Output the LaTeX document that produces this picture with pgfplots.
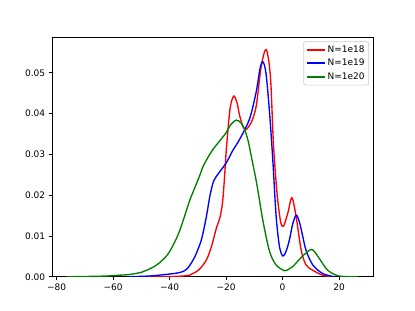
\documentclass[border=0pt]{standalone}
\usepackage{fontspec}
\setmainfont{DejaVu Sans}
\usepackage{pgfplots}
\pgfplotsset{compat=1.18}
\definecolor{mplgreen}{rgb}{0,0.5,0}
\pgfplotsset{
  mplline/.style={line width=1.35bp, smooth, tension=0.5},
}
\begin{document}
\begin{tikzpicture}[font=\fontsize{9bp}{11bp}\selectfont]
\useasboundingbox (0,0) rectangle (415bp,311bp);
\begin{axis}[
  at={(51.9bp,34.2bp)}, anchor=south west, scale only axis,
  width=321.6bp, height=239.5bp,
  xmin=-81.7, xmax=32.2, ymin=0, ymax=0.0587,
  xtick={-80,-60,-40,-20,0,20},
  xticklabels={−80,−60,−40,−20,0,20},
  ytick={0,0.01,0.02,0.03,0.04,0.05},
  yticklabels={0.00,0.01,0.02,0.03,0.04,0.05},
  scaled y ticks=false,
  tick align=outside, tick pos=left, major tick length=3.2bp,
  every tick/.style={black, line width=0.72bp},
  axis line style={line width=0.72bp},
  tick label style={font=\fontsize{9bp}{11bp}\selectfont},
  legend style={at={(1,1)}, anchor=north east, xshift=-4.5bp, yshift=-4bp,
    draw=black!20, line width=0.72bp, rounded corners=2bp, inner xsep=2bp, inner ysep=2bp,
    row sep=1.5bp, font=\fontsize{9bp}{11bp}\selectfont},
  legend cell align=left,
  legend image code/.code={\draw[#1, line width=2bp, sharp corners] (0bp,0bp) -- (18bp,0bp);},
]
\addplot[red, mplline] coordinates {
(-50,0) (-42,0.00003) (-38,0.0001) (-35,0.0002) (-33,0.0004) (-31.5,0.0009)
(-29.5,0.0018) (-27,0.0041) (-25.2,0.0074) (-23.5,0.0118) (-22.2,0.0145)
(-21.3,0.0180) (-20.6,0.0240) (-20.0,0.0305) (-19.4,0.0356) (-18.5,0.0417)
(-17.3,0.0443) (-16.2,0.0428) (-15.2,0.0395) (-14,0.0368) (-12.9,0.0361)
(-11,0.0380) (-9.3,0.0420) (-7.6,0.0515) (-5.8,0.0557) (-4.3,0.0490)
(-3.2,0.0320) (-1.9,0.0200) (-0.7,0.0135) (0.3,0.0124) (1.8,0.0155)
(3.3,0.0194) (4.8,0.0147) (6.6,0.0065) (8.3,0.0029) (10.7,0.0016)
(14.2,0.0004) (18,0)
};
\addlegendentry{N=1e18}
\addplot[blue, mplline] coordinates {
(-55,0) (-47,0.0002) (-41,0.0006) (-37.5,0.0009) (-35.3,0.0013) (-33.5,0.0022)
(-31.1,0.0049) (-28.8,0.0090) (-27,0.0147) (-25.8,0.0196) (-24.4,0.0235)
(-22.3,0.0257) (-19.9,0.0280) (-17.6,0.0310) (-15.2,0.0337) (-11.7,0.0387)
(-9.3,0.0455) (-8,0.0510) (-7.0,0.0527) (-5.9,0.0500) (-4.7,0.0410)
(-3.5,0.0290) (-2.3,0.0150) (-1.1,0.0074) (0.1,0.0051) (1.2,0.0062)
(2.4,0.0090) (3.6,0.0130) (4.8,0.0151) (5.8,0.0138) (6.8,0.0110)
(8.3,0.0065) (10.7,0.0029) (14.2,0.0008) (18.4,0)
};
\addlegendentry{N=1e19}
\addplot[mplgreen, mplline] coordinates {
(-76.5,0) (-68,0.0001) (-62,0.0002) (-57.6,0.0004) (-55,0.0005) (-52.9,0.0007)
(-50,0.0011) (-48.2,0.0016) (-45.5,0.0025) (-43.5,0.0035) (-41.5,0.0048)
(-40,0.0062) (-38,0.0088) (-36.4,0.0114) (-35.3,0.0136) (-33,0.0185)
(-31.7,0.0208) (-29.4,0.0247) (-28.2,0.0270) (-26,0.0298) (-24.7,0.0312)
(-22.3,0.0333) (-20,0.0353) (-18.5,0.0372) (-16.4,0.0384) (-14.7,0.0377)
(-13.5,0.0362) (-12.2,0.0333) (-11.1,0.0296) (-9.2,0.0230) (-6.9,0.0135)
(-4.6,0.0062) (-2.3,0.0029) (0.7,0.0015) (2.5,0.0020) (3.6,0.0025)
(7.1,0.0051) (10.1,0.0067) (11.5,0.0060) (13.0,0.0045) (16,0.0016)
(20,0.0002) (26.7,0)
};
\addlegendentry{N=1e20}
\end{axis}
\end{tikzpicture}
\end{document}
